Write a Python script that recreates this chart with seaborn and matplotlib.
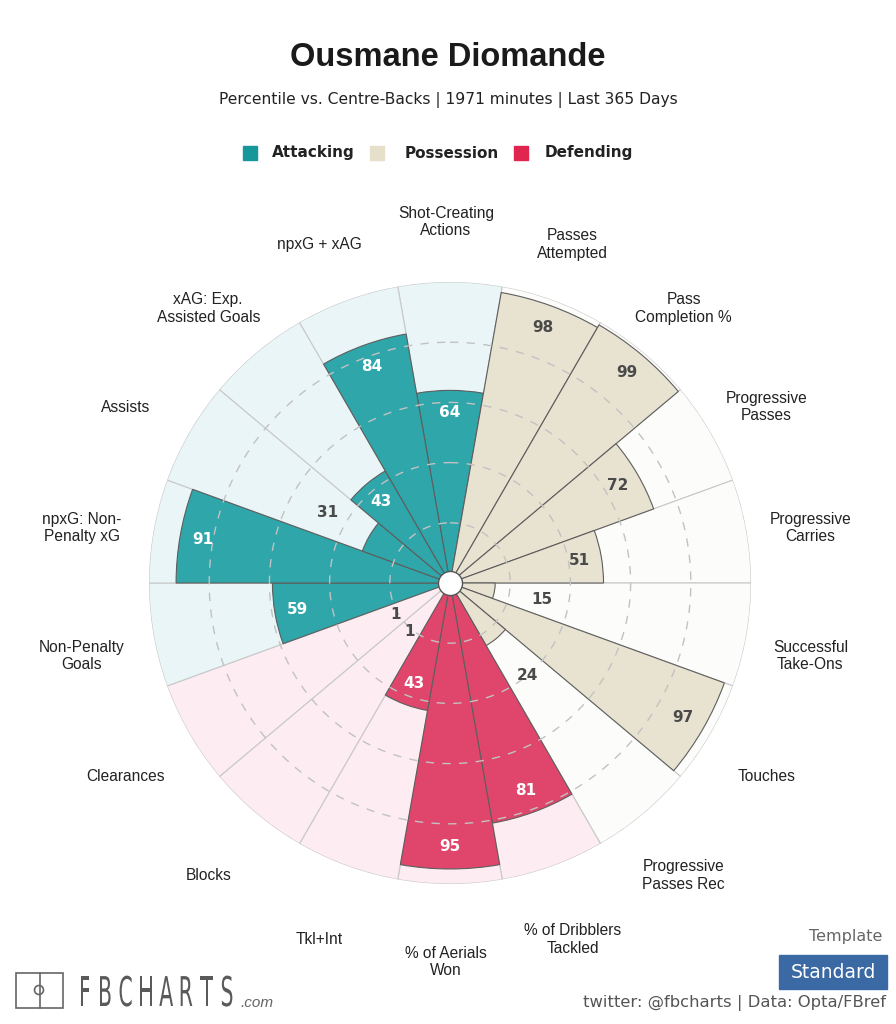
import numpy as np
import matplotlib
matplotlib.use("Agg")
import matplotlib.pyplot as plt
import matplotlib.transforms as mtransforms
from matplotlib.patches import Rectangle, PathPatch
from matplotlib.textpath import TextPath
from matplotlib.font_manager import FontProperties
import seaborn as sns

sns.set_theme(style="white")
plt.rcParams['font.family'] = ['Liberation Sans', 'DejaVu Sans']

# ---- data ----
params = ["Shot-Creating\nActions", "Passes\nAttempted", "Pass\nCompletion %",
          "Progressive\nPasses", "Progressive\nCarries", "Successful\nTake-Ons",
          "Touches", "Progressive\nPasses Rec", "% of Dribblers\nTackled",
          "% of Aerials\nWon", "Tkl+Int", "Blocks", "Clearances",
          "Non-Penalty\nGoals", "npxG: Non-\nPenalty xG", "Assists",
          "xAG: Exp.\nAssisted Goals", "npxG + xAG"]
values = [64, 98, 99, 72, 51, 15, 97, 24, 81, 95, 43, 1, 1, 59, 91, 31, 43, 84]
groups = ["Attacking"] + ["Possession"] * 7 + ["Defending"] * 5 + ["Attacking"] * 5
legend_names = ["Attacking", "Possession", "Defending"]

bar_col = {"Attacking": "#2fa6aa", "Possession": "#e8e2d1", "Defending": "#e0466b"}
bg_col = {"Attacking": "#e9f5f6", "Possession": "#fcfcfb", "Defending": "#fdecf1"}
leg_col = {"Attacking": "#17979a", "Possession": "#e6dfca", "Defending": "#e0254f"}
in_txt = {"Attacking": "white", "Possession": "#4a4a4a", "Defending": "white"}

fig = plt.figure(figsize=(8.96, 10.24), dpi=100)
fig.patch.set_facecolor("white")

ax = fig.add_axes([0.1663, 0.1367, 0.6719, 0.5879], polar=True)
ax.set_theta_zero_location("N")
ax.set_theta_direction(-1)
ax.set_facecolor("none")

n = len(values)
theta = np.arange(n) * 2 * np.pi / n
width = 2 * np.pi / n

ax.bar(theta, [100] * n, width=width, color=[bg_col[g] for g in groups],
       edgecolor="#c9c9c9", linewidth=0.8, zorder=1)
ax.bar(theta, values, width=width, color=[bar_col[g] for g in groups],
       edgecolor="#5e5e5e", linewidth=0.8, zorder=2)

circ = np.linspace(0, 2 * np.pi, 500)
for r in [20, 40, 60, 80]:
    ax.plot(circ, [r] * len(circ), color="#c2c2c2", lw=1.0,
            linestyle=(0, (6, 6)), zorder=3)

ax.scatter([0], [0], s=300, color="white", edgecolor="#555555", linewidth=1.0, zorder=6)

# value labels
for t, v, g in zip(theta, values, groups):
    if v >= 35:
        r, c = v - 7.5, in_txt[g]
    else:
        r, c = max(v + 16, 21), "#4a4a4a"
    ax.text(t, r, str(v), ha="center", va="center", fontsize=11,
            fontweight="bold", family="DejaVu Sans", color=c, zorder=7)

# parameter labels
offset = mtransforms.ScaledTranslation(-4 / 100, -9 / 100, fig.dpi_scale_trans)
for t, p in zip(theta, params):
    ax.text(t, 122.9, p, ha="center", va="center", fontsize=11.2, color="#222222",
            linespacing=1.2, transform=ax.transData + offset)

ax.set_ylim(0, 100)
ax.set_xticks([])
ax.set_yticks([])
ax.grid(False)
ax.spines["polar"].set_visible(False)

# title block
fig.text(0.5, 1 - 58 / 1024, "Ousmane Diomande", ha="center", va="center",
         fontsize=23.5, fontweight="bold", color="#1a1a1a")
fig.text(0.5, 1 - 100 / 1024, "Percentile vs. Centre-Backs | 1971 minutes | Last 365 Days",
         ha="center", va="center", fontsize=11.2, family="DejaVu Sans", color="#222222")

leg_sq_x = [243, 370, 514]
leg_tx_x = [272, 405, 545]
for name, sx, tx in zip(legend_names, leg_sq_x, leg_tx_x):
    fig.patches.append(Rectangle((sx / 896, 1 - 160 / 1024), 14 / 896, 14 / 1024,
                                 transform=fig.transFigure, color=leg_col[name]))
    fig.text(tx / 896, 1 - 153 / 1024, name, ha="left", va="center", fontsize=11,
             fontweight="bold", family="DejaVu Sans", color="#222222")

# logo bottom-left (pixel coordinates, origin bottom-left)
px = mtransforms.Affine2D().scale(1 / 100) + fig.dpi_scale_trans
fig.patches.append(Rectangle((16, 1024 - 1008), 47, 35, transform=px,
                             fill=False, ec="#666666", lw=1.2))
fig.lines.append(plt.Line2D([40, 40], [1024 - 1008, 1024 - 973], transform=px,
                            color="#666666", lw=1.2))
fig.patches.append(plt.Circle((39, 1024 - 990), 4.5, transform=px,
                              fill=False, ec="#666666", lw=1.2))
fp = FontProperties(family="DejaVu Sans", weight="normal")
for i, ch in enumerate("FBCHARTS"):
    tp = TextPath((0, 0), ch, size=41, prop=fp)
    bb = tp.get_extents()
    cx = 85 + i * 20.3
    tr = mtransforms.Affine2D().translate(-(bb.x0 + bb.x1) / 2, 0).scale(0.5, 1) \
        .translate(cx, 1024 - 1006)
    fig.patches.append(PathPatch(tr.transform_path(tp), transform=px,
                                 color="#5a5a5a", lw=0))
fig.text(240 / 896, 1 - 1003 / 1024, ".com", ha="left", va="center", fontsize=11,
         style="italic", color="#666666")

# bottom-right
fig.text(882 / 896, 1 - 936 / 1024, "Template", ha="right", va="center", fontsize=11.5,
         family="DejaVu Sans", color="#666666")
fig.patches.append(Rectangle((779 / 896, 1 - 989 / 1024), 108 / 896, 34 / 1024,
                             transform=fig.transFigure, color="#3a69a3"))
fig.text(833 / 896, 1 - 972 / 1024, "Standard", ha="center", va="center", fontsize=13.5,
         family="DejaVu Sans", color="white")
fig.text(886 / 896, 1 - 1003 / 1024, "twitter: @fbcharts | Data: Opta/FBref", ha="right",
         va="center", fontsize=11.8, family="DejaVu Sans", color="#555555")

fig.savefig("out.png", dpi=100)
